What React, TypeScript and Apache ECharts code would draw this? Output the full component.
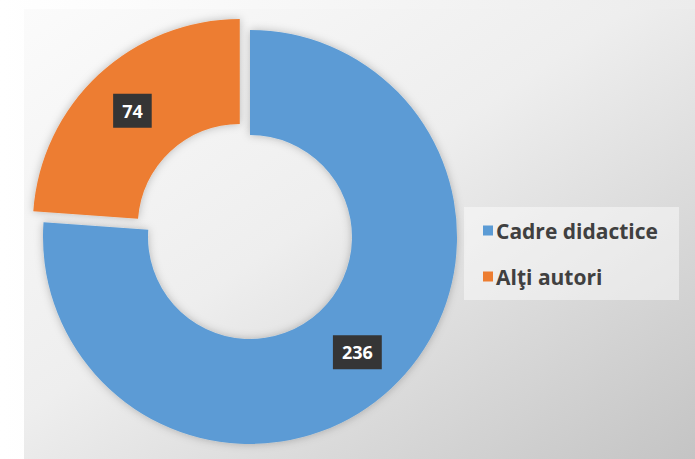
import React, { useEffect, useRef } from "react";
import * as echarts from "echarts";

const categories = ["Cadre didactice", "Alţi autori"];
const values = [236, 74];
const colors = ["#5B9BD5", "#ED7D31"];

export default function App() {
  const ref = useRef<HTMLDivElement>(null);
  useEffect(() => {
    document.body.style.margin = "0";
    const chart = echarts.init(ref.current!, null, { renderer: "svg" });
    chart.setOption({
      animation: false,
      backgroundColor: {
        type: "linear", x: 0, y: 0, x2: 1, y2: 0,
        colorStops: [{ offset: 0, color: "#ffffff" }, { offset: 1, color: "#ececec" }],
      },
      graphic: [
        {
          type: "rect", z: -10, silent: true,
          shape: { x: 24, y: 9, width: 671, height: 450 },
          style: {
            fill: {
              type: "linear", x: 0, y: 0, x2: 1, y2: 1,
              colorStops: [
                { offset: 0, color: "#fbfbfb" },
                { offset: 0.45, color: "#eeeeee" },
                { offset: 1, color: "#c4c4c4" },
              ],
            },
          },
        },
        {
          type: "rect", z: -5, silent: true,
          shape: { x: 464, y: 207, width: 215, height: 93 },
          style: { fill: "rgba(255,255,255,0.45)" },
        },
      ],
      legend: {
        orient: "vertical",
        left: 478,
        top: 215,
        itemGap: 25,
        icon: "rect",
        itemWidth: 10,
        itemHeight: 10,
        textStyle: { fontFamily: "Open Sans", fontSize: 21, fontWeight: "bold", color: "#404040", padding: [0, 0, 0, -2] },
        data: categories,
      },
      series: [
        {
          type: "pie",
          center: [250, 237],
          radius: [102, 207],
          startAngle: 90,
          clockwise: true,
          selectedMode: "single",
          selectedOffset: 15,
          avoidLabelOverlap: false,
          label: {
            show: true,
            position: "inside",
            formatter: "{c}",
            color: "#ffffff",
            fontFamily: "Open Sans",
            fontWeight: "bold",
            fontSize: 18,
            backgroundColor: "#353535",
            padding: [8, 9],
          },
          labelLine: { show: false },
          itemStyle: {
            shadowBlur: 8,
            shadowColor: "rgba(0,0,0,0.25)",
          },
          data: categories.map((name, i) => ({
            name,
            value: values[i],
            selected: i === 1,
            itemStyle: { color: colors[i] },
          })),
        },
      ],
    });
    return () => chart.dispose();
  }, []);
  return <div ref={ref} style={{ position: "fixed", left: 0, top: 0, width: 695, height: 459 }} />;
}
